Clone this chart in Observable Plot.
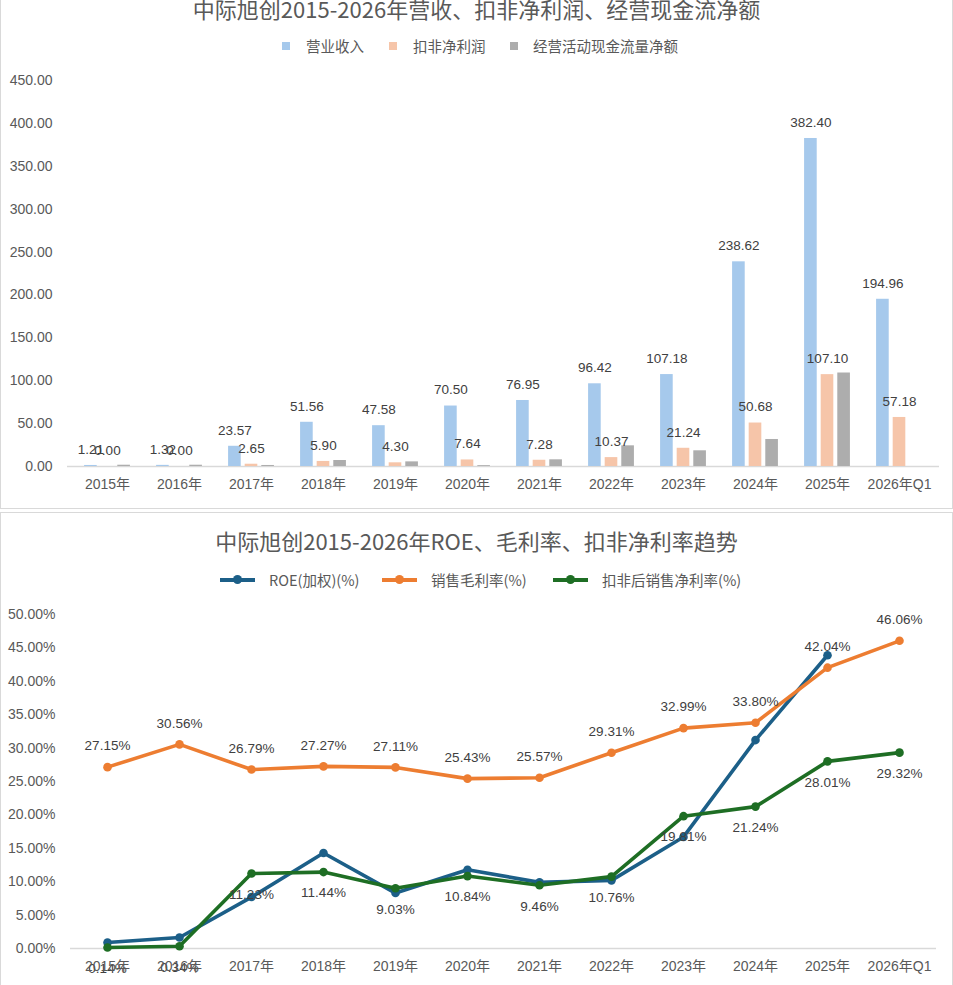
<!DOCTYPE html>
<html><head><meta charset="utf-8">
<script src="https://cdn.jsdelivr.net/npm/d3@7"></script>
<script src="https://cdn.jsdelivr.net/npm/@observablehq/plot@0.6"></script>
<style>
body{margin:0;background:#fff;width:953px;height:985px;position:relative;overflow:hidden;font-family:"Liberation Sans","Noto Sans CJK SC",sans-serif;}
.box{position:absolute;left:0;width:951px;border:1px solid #d9d9d9;background:#fff;}
.title{position:absolute;left:0;width:953px;text-align:center;font-size:22px;line-height:24px;color:#595959;font-family:"Noto Sans CJK SC",sans-serif;white-space:nowrap}
.leg{position:absolute;font-size:14.5px;line-height:16px;color:#595959;white-space:nowrap;font-family:"Noto Sans CJK SC",sans-serif}
.sq{position:absolute;width:8px;height:8px}
.ln{position:absolute;height:3.5px;width:35px}
.ln i{position:absolute;left:13px;top:-3px;width:9px;height:9px;border-radius:50%;background:inherit}
.chart{position:absolute;left:0}
</style></head>
<body>
<div class="box" style="top:-10px;height:517px"></div>
<div class="box" style="top:512px;height:472px"></div>
<div class="title" style="top:-4px">中际旭创2015-2026年营收、扣非净利润、经营现金流净额</div>
<div class="title" style="top:528px">中际旭创2015-2026年ROE、毛利率、扣非净利率趋势</div>
<div id="leg1"></div>
<div id="leg2"></div>
<div id="c1" class="chart" style="top:60px"></div>
<div id="c2" class="chart" style="top:595px"></div>
<script>
// ---------- data ----------
const years = ["2015年","2016年","2017年","2018年","2019年","2020年","2021年","2022年","2023年","2024年","2025年","2026年Q1"];
const barSeries = ["营业收入","扣非净利润","经营活动现金流量净额"];
const revenue   = [1.21, 1.32, 23.57, 51.56, 47.58, 70.50, 76.95, 96.42, 107.18, 238.62, 382.40, 194.96];
const netProfit = [0.00, 0.00, 2.65, 5.90, 4.30, 7.64, 7.28, 10.37, 21.24, 50.68, 107.10, 57.18];
const cashFlow  = [1.5, 1.5, 1.2, 7.0, 5.4, 1.0, 7.8, 24.1, 18.3, 31.5, 109.0, null];
const barColors = ["#a6c9ec", "#f6c5a9", "#adadad"];
const barTicks = [0, 50, 100, 150, 200, 250, 300, 350, 400, 450];

const lineSeries = ["ROE(加权)(%)", "销售毛利率(%)", "扣非后销售净利率(%)"];
const roe         = [0.90, 1.65, 7.7, 14.3, 8.3, 11.8, 9.9, 10.2, 16.7, 31.2, 43.9, null];
const grossMargin = [27.15, 30.56, 26.79, 27.27, 27.11, 25.43, 25.57, 29.31, 32.99, 33.80, 42.04, 46.06];
const netMargin   = [0.14, 0.34, 11.23, 11.44, 9.03, 10.84, 9.46, 10.76, 19.81, 21.24, 28.01, 29.32];
const lineColors  = ["#1c5f88", "#ed7d31", "#1e6e24"];
const lineTicks = [0, 5, 10, 15, 20, 25, 30, 35, 40, 45, 50];

// ---------- legends ----------
const leg1 = document.getElementById("leg1");
[[282, 306], [389, 413], [510, 533]].forEach(([sx, tx], i) => {
  leg1.insertAdjacentHTML("beforeend",
    `<div class="sq" style="left:${sx}px;top:42px;background:${barColors[i]}"></div>` +
    `<div class="leg" style="left:${tx}px;top:38px">${barSeries[i]}</div>`);
});
const leg2 = document.getElementById("leg2");
[[220, 269], [382, 431], [553, 602]].forEach(([sx, tx], i) => {
  leg2.insertAdjacentHTML("beforeend",
    `<div class="ln" style="left:${sx}px;top:578px;background:${lineColors[i]}"><i></i></div>` +
    `<div class="leg" style="left:${tx}px;top:572px">${lineSeries[i]}</div>`);
});

// ---------- chart 1 ----------
const W = 953;
const ml1 = 67, mr1 = 14;
const step1 = (W - ml1 - mr1) / years.length;
const bw = 13.3, pitch = 16.6;
const center = step1 / 2;
const insets = [-1, 0, 1].map(k => {
  const c = center + k * pitch;
  return {insetLeft: c - bw / 2, insetRight: step1 - (c + bw / 2)};
});
const seriesVals = [revenue, netProfit, cashFlow];
const barData = seriesVals.map(arr => years.map((y, i) => ({year: y, v: arr[i]})).filter(d => d.v != null));

const axisStyle = {fontFamily: "'Liberation Sans','Noto Sans CJK SC',sans-serif", fontSize: "14px", color: "#595959", background: "transparent", overflow: "visible"};

const p1 = Plot.plot({
  width: W, height: 448,
  marginLeft: ml1, marginRight: mr1, marginTop: 20, marginBottom: 42,
  style: axisStyle,
  x: {type: "band", domain: years, padding: 0},
  y: {domain: [0, 450]},
  marks: [
    Plot.ruleY([0], {stroke: "#d9d9d9", strokeWidth: 1.5}),
    ...barData.map((d, k) => Plot.barY(d, {x: "year", y: "v", fill: barColors[k], ...insets[k]})),
    Plot.text(barData[0], {x: "year", y: "v", text: d => d.v.toFixed(2), dx: -pitch, dy: -16, fill: "#404040", fontSize: 13.5}),
    Plot.text(barData[1], {x: "year", y: "v", text: d => d.v.toFixed(2), dx: 0, dy: -16, fill: "#404040", fontSize: 13.5}),
    Plot.axisY(barTicks, {tickSize: 0, tickPadding: 15, tickFormat: d => d.toFixed(2), label: null}),
    Plot.axisX({tickSize: 0, tickPadding: 13, label: null})
  ]
});
document.getElementById("c1").appendChild(p1);

// ---------- chart 2 ----------
const ml2 = 70, mr2 = 17;
const lineVals = [roe, grossMargin, netMargin];
const lineData = lineVals.map(arr => years.map((y, i) => ({year: y, v: arr[i]})));

const p2 = Plot.plot({
  width: W, height: 390,
  marginLeft: ml2, marginRight: mr2, marginTop: 19, marginBottom: 37,
  style: axisStyle,
  x: {type: "point", domain: years, padding: 0.5},
  y: {domain: [0, 50]},
  marks: [
    Plot.ruleY([0], {stroke: "#d9d9d9", strokeWidth: 1.5}),
    ...lineData.map((d, k) => Plot.line(d, {x: "year", y: "v", stroke: lineColors[k], strokeWidth: 3.6, strokeLinejoin: "round", strokeLinecap: "round"})),
    ...lineData.map((d, k) => Plot.dot(d.filter(e => e.v != null), {x: "year", y: "v", fill: lineColors[k], r: 4.3})),
    Plot.text(lineData[1], {x: "year", y: "v", text: d => d.v.toFixed(2) + "%", dy: -21, fill: "#404040", fontSize: 13.5}),
    Plot.text(lineData[2], {x: "year", y: "v", text: d => d.v.toFixed(2) + "%", dy: 21, fill: "#404040", fontSize: 13.5}),
    Plot.axisY(lineTicks, {tickSize: 0, tickPadding: 15, tickFormat: d => d.toFixed(2) + "%", label: null}),
    Plot.axisX({tickSize: 0, tickPadding: 13, label: null})
  ]
});
document.getElementById("c2").appendChild(p2);
</script>
</body></html>
